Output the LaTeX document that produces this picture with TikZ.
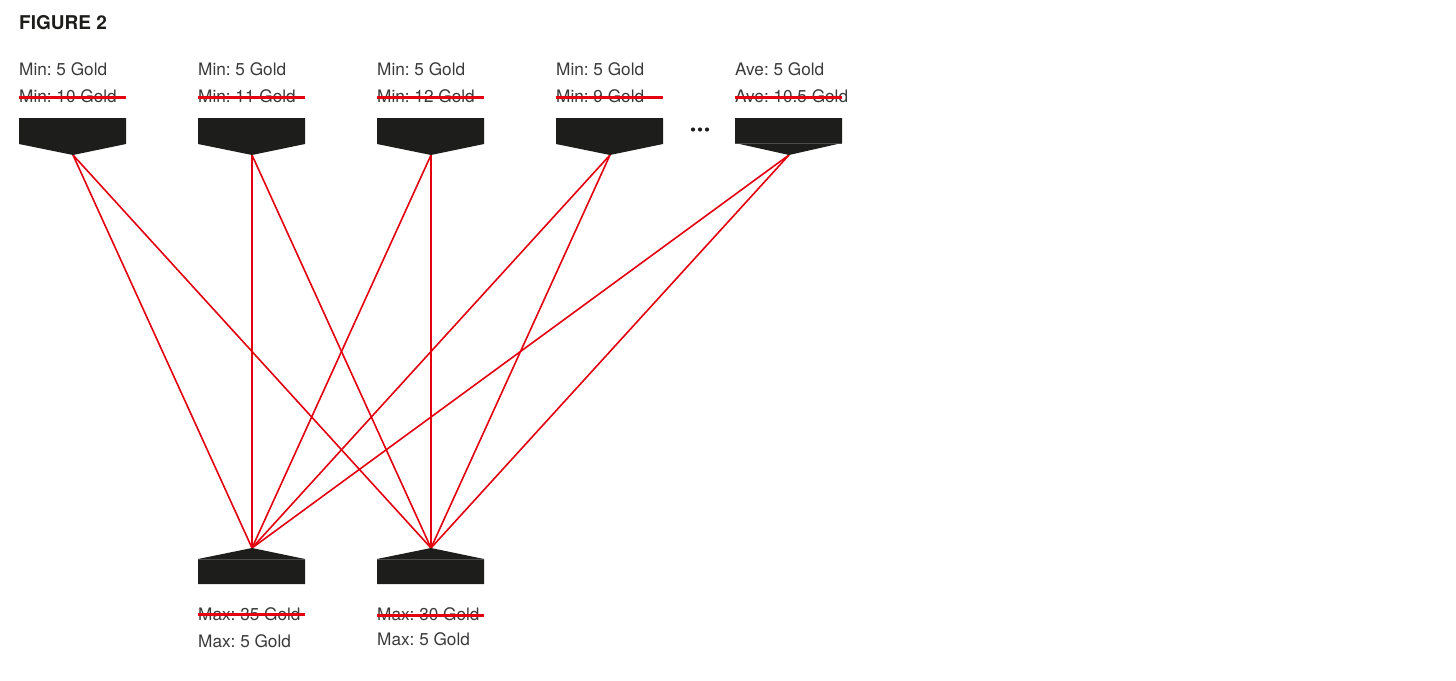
\documentclass[tikz,border=0pt]{standalone}
\usepackage{fontspec}
\setmainfont{TeX Gyre Heros}
\frenchspacing
\definecolor{boxfill}{HTML}{1D1D1B}
\definecolor{linered}{HTML}{E3000F}
\definecolor{txt}{HTML}{3A3A3A}
\begin{document}
\begin{tikzpicture}[x=1pt,y=-1pt,
  lbl/.style={anchor=base west,inner sep=0pt,text=txt,font=\fontsize{17.2}{19}\selectfont},
  conn/.style={draw=linered,line width=1.6pt},
  strike/.style={draw=linered,line width=3pt},
  topbox/.style={fill=boxfill},
  seam/.style={draw=gray!60!black,line width=0.6pt}]
\useasboundingbox (0,0) rectangle (1456,680);
\node[anchor=base west,inner sep=0pt,text=boxfill,font=\fontsize{19}{21}\selectfont\bfseries] (fig) at (19,29) {FIGURE 2};

% apex coordinates
\foreach \i/\x in {1/19,2/198,3/377,4/556,5/735}{
  \coordinate (t\i) at (\x+54,155);
}
\coordinate (b1) at (252,548);
\coordinate (b2) at (431,548);

% connectors
\foreach \i in {1,...,5}{
  \draw[conn] (t\i) -- (b1);
  \draw[conn] (t\i) -- (b2);
}

% top boxes
\foreach \i/\x in {1/19,2/198,3/377,4/556}{
  \fill[topbox] (\x,118) -- (\x+107,118) -- (\x+107,144) -- (t\i) -- (\x,144) -- cycle;
}
\fill[topbox] (735,118) -- (842,118) -- (842,143) -- (t5) -- (735,143) -- cycle;
\draw[seam] (735,143) -- (842,143);

% bottom boxes
\fill[topbox] (198,584) -- (198,559) -- (b1) -- (305,559) -- (305,584) -- cycle;
\draw[seam] (198,559) -- (305,559);
\fill[topbox] (377,584) -- (377,559) -- (b2) -- (484,559) -- (484,584) -- cycle;
\draw[seam] (377,559) -- (484,559);

% dots
\foreach \dx in {-7,0,7}\fill[boxfill] (700+\dx,129.5) circle (2.1);

% top labels
\node[lbl] (n1) at (19,75) {Min: 5 Gold};
\node[lbl] (n2) at (198,75) {Min: 5 Gold};
\node[lbl] (n3) at (377,75) {Min: 5 Gold};
\node[lbl] (n4) at (556,75) {Min: 5 Gold};
\node[lbl] (n5) at (735,75) {Ave: 5 Gold};
\node[lbl] (o1) at (19,102) {Min: 10 Gold};
\node[lbl] (o2) at (198,102) {Min: 11 Gold};
\node[lbl] (o3) at (377,102) {Min: 12 Gold};
\node[lbl] (o4) at (556,102) {Min: 9 Gold};
\node[lbl] (o5) at (735,102) {Ave: 10.5 Gold};
\foreach \x in {19,198,377,556,735}\draw[strike] (\x,97) -- (\x+107,97);

% bottom labels
\node[lbl] (p1) at (198,620) {Max: 35 Gold};
\node[lbl] (p2) at (377,620) {Max: 30 Gold};
\node[lbl] (m1) at (198,647) {Max: 5 Gold};
\node[lbl] (m2) at (377,645) {Max: 5 Gold};
\draw[strike] (198,614) -- (305,614);
\draw[strike] (377,615) -- (484,615);
\end{tikzpicture}
\end{document}
